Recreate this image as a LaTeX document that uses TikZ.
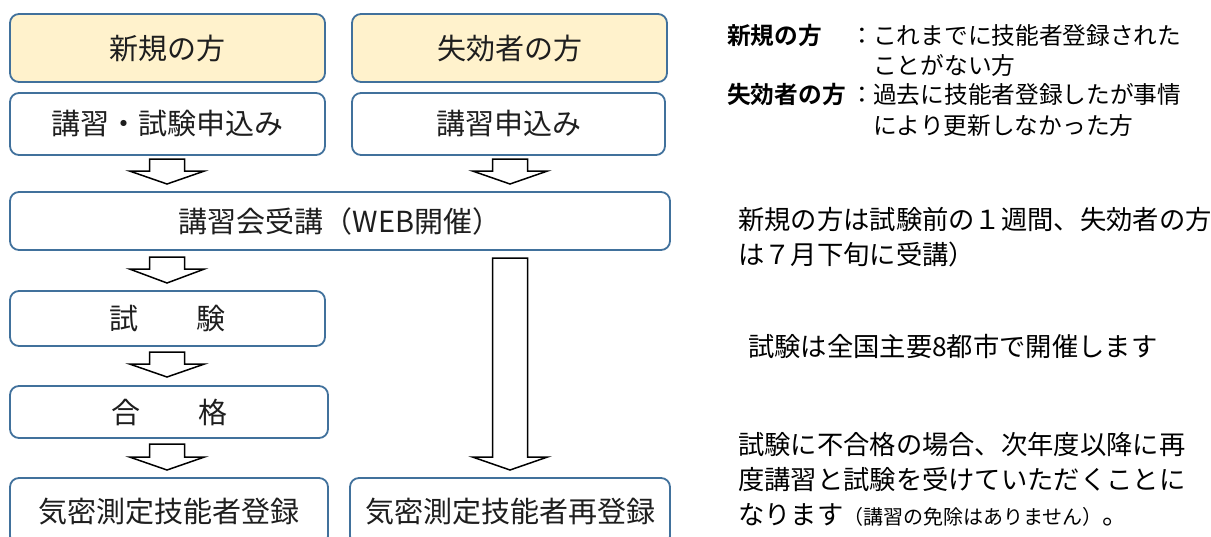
\documentclass[tikz,border=0pt]{standalone}
\usepackage{fontspec}
\setmainfont{Noto Sans CJK JP}[BoldFont={Noto Sans CJK JP Bold}]
\definecolor{boxline}{RGB}{65,113,156}
\definecolor{boxfill}{RGB}{255,242,204}
\definecolor{txt}{RGB}{30,30,30}
\newcommand\blockarr[4]{%
  \draw[barrow] ({#1-17.5},{#2}) -- ({#1+17.5},{#2}) -- ({#1+17.5},{#3}) -- ({#1+37.5},{#3})
    -- ({#1},{#4}) -- ({#1-37.5},{#3}) -- ({#1-17.5},{#3}) -- cycle;}
\tikzset{
  box/.style={draw=boxline, line width=1.8pt, rounded corners=9pt, fill=white,
    text=txt, font=\fontsize{29}{29}\selectfont, inner sep=0pt},
  ybox/.style={box, fill=boxfill},
  barrow/.style={draw=black, line width=1.5pt, fill=white, line join=miter},
  cj/.style={inner sep=0pt, text height=0.88em, text depth=0.12em, anchor=west},
  defl/.style={cj, font=\fontsize{23.7}{23.7}\selectfont},
  note/.style={cj, font=\fontsize{26.3}{26.3}\selectfont},
}
\begin{document}
\begin{tikzpicture}[x=1pt,y=-1pt]
\useasboundingbox (0,0) rectangle (1211,536);
\clip (0,0) rectangle (1211,536);
% boxes
\node[ybox, minimum width=315pt, minimum height=68pt] (new) at (167.5,48) {新規の方};
\node[ybox, minimum width=315pt, minimum height=68pt] (lapse) at (509.5,48) {失効者の方};
\node[box, minimum width=315pt, minimum height=62pt] (app1) at (167.5,124) {講習・試験申込み};
\node[box, minimum width=313pt, minimum height=62pt] (app2) at (508.5,124) {講習申込み};
\node[box, minimum width=660pt, minimum height=58pt] (lect) at (340,221) {講習会受講（WEB開催）};
\node[box, minimum width=315pt, minimum height=55pt] (exam) at (167.5,318.5) {試　　験};
\node[box, minimum width=318pt, minimum height=52pt] (pass) at (169,412) {合　　格};
\node[box, minimum width=318pt, minimum height=67pt] (reg) at (169,511.5) {気密測定技能者登録};
\node[box, minimum width=320pt, minimum height=67pt] (rereg) at (510,511.5) {気密測定技能者再登録};
% block arrows
\blockarr{167}{159}{171}{184}
\blockarr{510}{159}{171}{184}
\blockarr{167}{257}{269}{283}
\blockarr{510}{258}{457}{470}
\blockarr{167}{352}{364}{377}
\blockarr{167}{444}{457}{470}
% definitions
\node[defl, font=\fontsize{23.7}{23.7}\selectfont\bfseries] (d1) at (727,41) {新規の方};
\node[defl, anchor=center] (c1) at (862,41) {：};
\node[defl] (d1a) at (873,41) {これまでに技能者登録された};
\node[defl] (d1b) at (873,71) {ことがない方};
\node[defl, font=\fontsize{23.7}{23.7}\selectfont\bfseries] (d2) at (727,100) {失効者の方};
\node[defl, anchor=center] (c2) at (862,100) {：};
\node[defl] (d2a) at (873,100) {過去に技能者登録したが事情};
\node[defl] (d2b) at (873,131) {により更新しなかった方};
% notes
\node[note] (n1) at (738,226) {新規の方は試験前の１週間、失効者の方};
\node[note] (n1b) at (738,261) {は７月下旬に受講）};
\node[note] (n2) at (748,353) {試験は全国主要8都市で開催します};
\node[note] (n3) at (738,451) {試験に不合格の場合、次年度以降に再};
\node[note] (n3b) at (738,486) {度講習と試験を受けていただくことに};
\node[note] (n3c) at (738,521) {なります{\fontsize{20}{20}\selectfont（講習の免除はありません）}。};
\end{tikzpicture}
\end{document}
